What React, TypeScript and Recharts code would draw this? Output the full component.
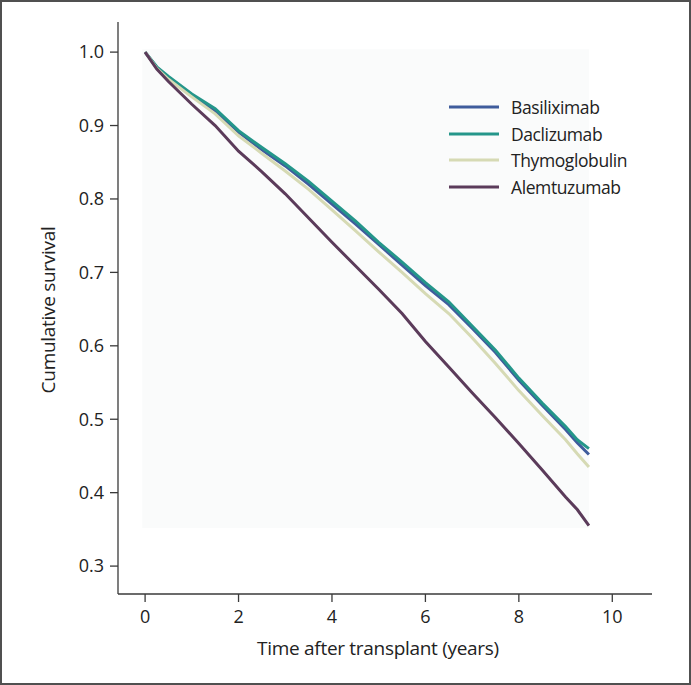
import React from "react";
import { LineChart, Line, XAxis, YAxis, ReferenceArea } from "recharts";

const years = [0, 0.25, 0.5, 1, 1.5, 2, 2.5, 3, 3.5, 4, 4.5, 5, 5.5, 6, 6.5, 7, 7.5, 8, 8.5, 9, 9.25, 9.5];
const basiliximab = [1.0, 0.979, 0.965, 0.941, 0.920, 0.891, 0.867, 0.845, 0.820, 0.793, 0.766, 0.738, 0.710, 0.682, 0.656, 0.624, 0.591, 0.553, 0.519, 0.486, 0.468, 0.452];
const daclizumab = [1.0, 0.980, 0.967, 0.943, 0.923, 0.893, 0.870, 0.848, 0.824, 0.797, 0.770, 0.741, 0.714, 0.686, 0.660, 0.627, 0.594, 0.556, 0.522, 0.490, 0.472, 0.460];
const thymoglobulin = [1.0, 0.978, 0.963, 0.939, 0.916, 0.886, 0.862, 0.838, 0.813, 0.785, 0.757, 0.728, 0.700, 0.671, 0.644, 0.611, 0.576, 0.539, 0.505, 0.472, 0.453, 0.435];
const alemtuzumab = [1.0, 0.977, 0.960, 0.929, 0.900, 0.865, 0.837, 0.807, 0.774, 0.741, 0.709, 0.677, 0.644, 0.606, 0.571, 0.536, 0.502, 0.467, 0.431, 0.394, 0.377, 0.355];

const xTicks = [0, 2, 4, 6, 8, 10];
const yTicks = [0.3, 0.4, 0.5, 0.6, 0.7, 0.8, 0.9, 1.0];

const series = [
  { key: "Basiliximab", values: basiliximab, color: "#3f5c9c" },
  { key: "Daclizumab", values: daclizumab, color: "#24968a" },
  { key: "Thymoglobulin", values: thymoglobulin, color: "#d6dab4" },
  { key: "Alemtuzumab", values: alemtuzumab, color: "#5b3b5a" },
];

const data = years.map((t, i) => {
  const row: Record<string, number> = { t };
  series.forEach((s) => (row[s.key] = s.values[i]));
  return row;
});

const FONT = "'Open Sans', 'Noto Sans', sans-serif";

export default function App() {
  return (
    <div
      style={{
        position: "absolute",
        left: 0,
        top: 0,
        width: 691,
        height: 685,
        boxSizing: "border-box",
        border: "2px solid #505050",
        background: "#fff",
      }}
    >
      <div style={{ position: "absolute", left: -2, top: -2 }}>
        <LineChart
          width={691}
          height={685}
          data={data}
          margin={{ top: 22, right: 39, bottom: 51, left: 20 }}
        >
          <ReferenceArea x1={-0.06} x2={9.5} y1={0.352} y2={1.004} fill="#fafbfb" fillOpacity={1} stroke="none" ifOverflow="hidden" />
          <XAxis
            dataKey="t"
            type="number"
            domain={[-0.58, 10.85]}
            ticks={xTicks}
            allowDataOverflow
            height={40}
            stroke="#3a3a3a"
            strokeWidth={1.3}
            tickSize={8}
            tickMargin={8}
            tick={{ fill: "#222", fontSize: 18, fontFamily: FONT }}
            label={{
              content: (p: any) => {
                const vb = p.viewBox || {};
                return (
                  <text x={vb.x + vb.width / 2 - 7} y={655} textAnchor="middle" fill="#222" fontSize={19} fontFamily={FONT} letterSpacing={-0.3}>
                    Time after transplant (years)
                  </text>
                );
              },
            }}
          />
          <YAxis
            type="number"
            domain={[0.262, 1.041]}
            ticks={yTicks}
            allowDataOverflow
            width={98}
            stroke="#3a3a3a"
            strokeWidth={1.3}
            tickSize={8}
            tickMargin={6}
            tickFormatter={(v: number) => v.toFixed(1)}
            tick={{ fill: "#222", fontSize: 18, fontFamily: FONT }}
            label={{
              content: (p: any) => {
                const vb = p.viewBox || {};
                const cy = vb.y + vb.height / 2 + 2;
                return (
                  <text x={48} y={cy} transform={`rotate(-90, 48, ${cy})`} textAnchor="middle" dominantBaseline="central" fill="#222" fontSize={19} fontFamily={FONT} letterSpacing={-0.3}>
                    Cumulative survival
                  </text>
                );
              },
            }}
          />
          {series.map((s) => (
            <Line
              key={s.key}
              dataKey={s.key}
              name={s.key}
              stroke={s.color}
              strokeWidth={3}
              dot={false}
              type="linear"
              isAnimationActive={false}
            />
          ))}
        </LineChart>
        <div style={{ position: "absolute", left: 449, top: 94, fontFamily: FONT, fontSize: 17.5, letterSpacing: -0.4, color: "#222" }}>
          {series.map((s) => (
            <div key={s.key} style={{ display: "flex", alignItems: "center", height: 26.5 }}>
              <svg width={50} height={6} style={{ marginRight: 12 }}>
                <line x1={0} y1={3} x2={50} y2={3} stroke={s.color} strokeWidth={3} />
              </svg>
              <span>{s.key}</span>
            </div>
          ))}
        </div>
      </div>
    </div>
  );
}
